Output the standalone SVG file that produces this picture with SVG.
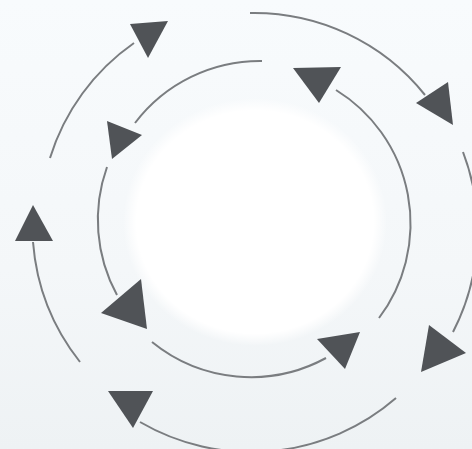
<svg xmlns="http://www.w3.org/2000/svg" width="472" height="449" viewBox="0 0 472 449">
  <defs>
    <linearGradient id="bg" x1="0" y1="0" x2="0" y2="1">
      <stop offset="0" stop-color="#f8fbfd"/>
      <stop offset="0.6" stop-color="#f4f7f9"/>
      <stop offset="1" stop-color="#eef2f4"/>
    </linearGradient>
    <radialGradient id="hub" cx="0.5" cy="0.5" r="0.5">
      <stop offset="0.9" stop-color="#ffffff"/>
      <stop offset="1" stop-color="#ffffff" stop-opacity="0"/>
    </radialGradient>
    <style>
      .arc { fill: none; stroke: #7a7d80; stroke-width: 2; }
      .head { fill: #505357; }
    </style>
  </defs>
  <rect width="472" height="449" fill="url(#bg)"/>
  <g id="hub-circle">
    <ellipse cx="255" cy="222" rx="132" ry="124" fill="url(#hub)"/>
  </g>
  <g id="connectors">
    <g id="outer-ring">
      <path class="arc" d="M 50 158 A 219 219 0 0 1 134 43"/>
      <polygon class="head" points="130,24 168,21 148,58"/>
      <path class="arc" d="M 250 13 A 219 219 0 0 1 425 95"/>
      <polygon class="head" points="416,103 448,82 453,125"/>
      <path class="arc" d="M 463 152 A 221 221 0 0 1 453 332"/>
      <polygon class="head" points="429,325 466,353 421,372"/>
      <path class="arc" d="M 396 398 A 221 221 0 0 1 140 422"/>
      <polygon class="head" points="108,391 153,391 133,428"/>
      <path class="arc" d="M 80 362 A 221 221 0 0 1 33 242"/>
      <polygon class="head" points="33,205 15,241 53,241"/>
    </g>
    <g id="inner-ring">
      <path class="arc" d="M 262 61 A 157 157 0 0 0 135 123"/>
      <polygon class="head" points="107,121 142,135 112,159"/>
      <path class="arc" d="M 107 167 A 157 157 0 0 0 117 295"/>
      <polygon class="head" points="141,279 147,329 101,313"/>
      <path class="arc" d="M 152 342 A 157 157 0 0 0 326 358"/>
      <polygon class="head" points="317,339 360,332 345,369"/>
      <path class="arc" d="M 379 318 A 157 157 0 0 0 336 90"/>
      <polygon class="head" points="293,68 341,67 319,103"/>
    </g>
  </g>
</svg>
